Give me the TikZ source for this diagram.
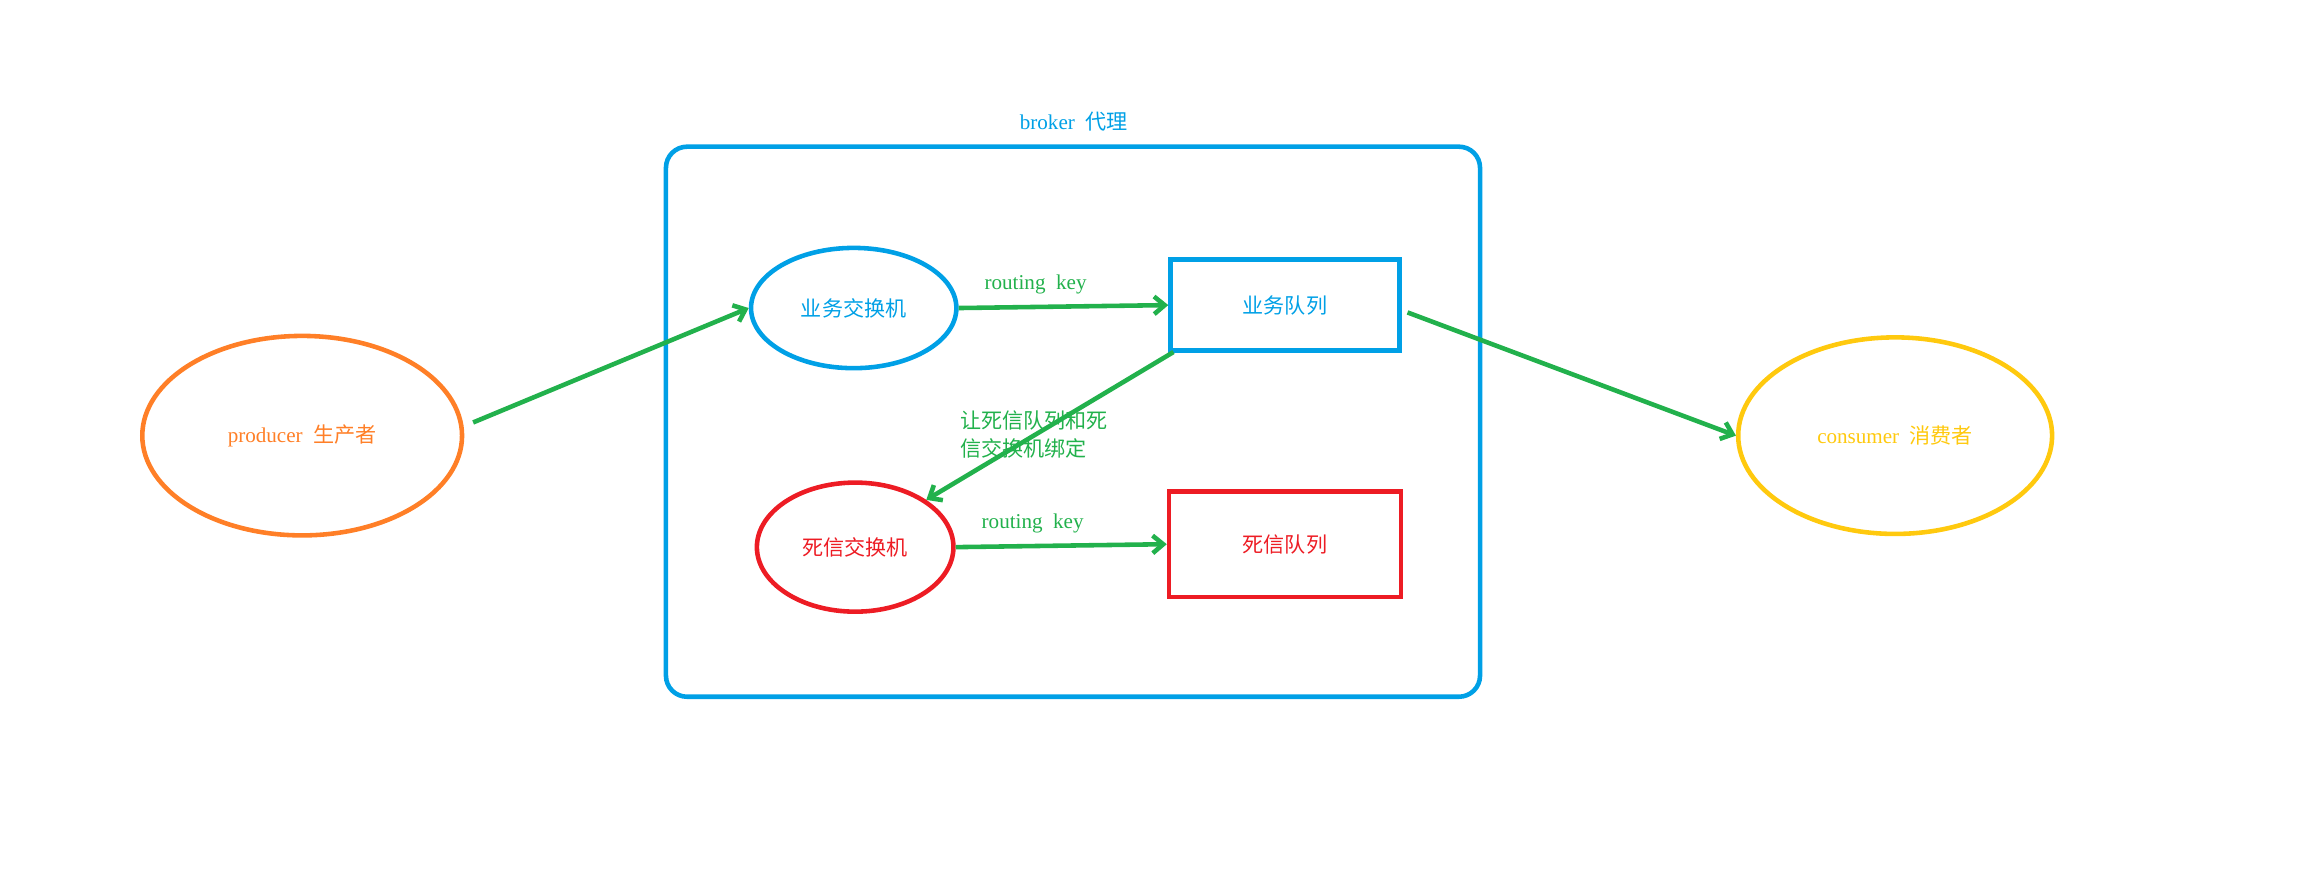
\documentclass[tikz,border=0pt]{standalone}
\usepackage{fontspec}
\setmainfont{Liberation Serif}
\newfontfamily\cjk{Noto Sans CJK SC}
\usetikzlibrary{shapes.geometric,arrows.meta}
\definecolor{cblue}{RGB}{0,160,230}
\definecolor{cred}{RGB}{237,28,36}
\definecolor{cgreen}{RGB}{34,177,76}
\definecolor{corange}{RGB}{255,127,39}
\definecolor{cyellow}{RGB}{255,201,14}
\begin{document}
\begin{tikzpicture}[x=0.014668cm,y=-0.014668cm,
  every node/.style={font=\fontsize{6}{8}\selectfont},
  ell/.style={ellipse,draw,line width=1.3pt,inner sep=0pt},
  qbox/.style={rectangle,draw,line width=1.3pt,inner sep=0pt},
  arr/.style={-{Straight Barb[length=3pt,width=5pt]},cgreen,line width=1.3pt},
  lbl/.style={text=cgreen}]
\useasboundingbox (0,0) rectangle (1568,604);
\draw[cblue,line width=1.3pt,rounded corners=6pt] (454,100) rectangle (1009,475);
\node[text=cblue] (broker) at (732,83) {broker\ \ {\cjk 代理}};
\node[ell,cblue,minimum width=140\pgflinewidth*0+140*0.014668cm,minimum height=82*0.014668cm] (bx) at (582,210) {\cjk 业务交换机};
\node[qbox,cblue,minimum width=156*0.014668cm,minimum height=62*0.014668cm] (bq) at (876,208) {\cjk 业务队列};
\node[ell,cred,minimum width=134*0.014668cm,minimum height=88*0.014668cm] (dx) at (583,373) {\cjk 死信交换机};
\node[qbox,cred,minimum width=158*0.014668cm,minimum height=72*0.014668cm] (dq) at (876,371) {\cjk 死信队列};
\node[ell,corange,minimum width=218*0.014668cm,minimum height=136*0.014668cm] (pr) at (206,297) {producer\ \ {\cjk 生产者}};
\node[ell,cyellow,minimum width=214*0.014668cm,minimum height=134*0.014668cm] (co) at (1292,297) {consumer\ \ {\cjk 消费者}};
\coordinate (bqbl) at (800,240);
\draw[arr] (pr.east) ++(6,-9) -- (bx.west);
\draw[arr] (bx.east) -- (bq.west);
\node[lbl] (l1) at (706,194) {routing\ \ key};
\draw[arr] (bq.east) ++(4,5) -- (co.west);
\draw[arr] (bqbl) -- (dx.north east);
\node[lbl,align=left,anchor=west] (l2) at (646,296) {\cjk 让死信队列和死\\ \cjk 信交换机绑定};
\draw[arr] (dx.east) -- (dq.west);
\node[lbl] (l3) at (704,357) {routing\ \ key};
\end{tikzpicture}
\end{document}
